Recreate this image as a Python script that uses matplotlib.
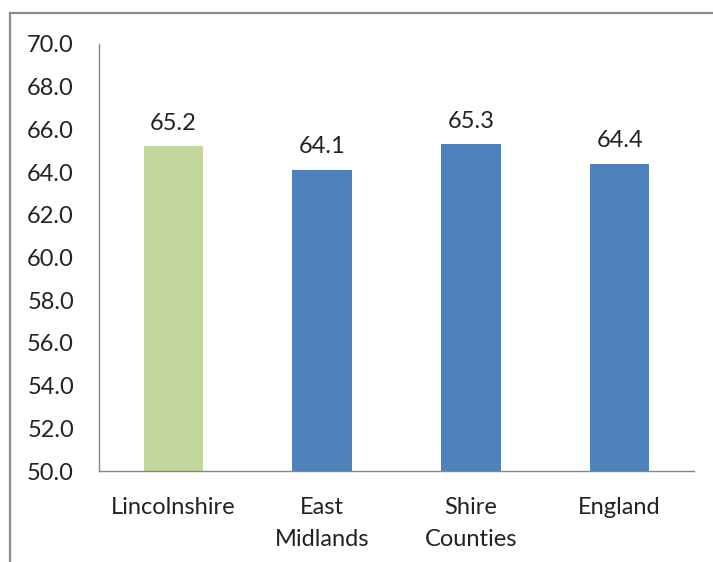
import matplotlib
matplotlib.use("Agg")
import matplotlib.pyplot as plt
from matplotlib.patches import Rectangle

categories = ["Lincolnshire", "East\nMidlands", "Shire\nCounties", "England"]
values = [65.2, 64.1, 65.3, 64.4]
colors = ["#C3D69B", "#4F81BD", "#4F81BD", "#4F81BD"]
yticks = [50.0, 52.0, 54.0, 56.0, 58.0, 60.0, 62.0, 64.0, 66.0, 68.0, 70.0]

plt.rcParams['font.family'] = ['Lato', 'DejaVu Sans']
FS = 17

fig = plt.figure(figsize=(7.13, 5.62), dpi=100)
ax = fig.add_axes([99/713, 1-471/562, (694-99)/713, (471-44)/562])

x = range(len(categories))
bars = ax.bar(x, values, width=0.4, color=colors, zorder=2)
for xi, v in zip(x, values):
    ax.annotate(f"{v:.1f}", (xi, v), xytext=(0, 9), textcoords="offset points",
                ha="center", va="bottom", fontsize=FS, color="#222222")

ax.set_xlim(-0.5, len(categories) - 0.5)
ax.set_ylim(50, 70)
ax.set_yticks(yticks)
ax.set_yticklabels([f"{t:.1f}" for t in yticks], fontsize=FS, color="#222222")
ax.set_xticks(list(x))
ax.set_xticklabels(categories, fontsize=FS, color="#222222", linespacing=1.6)
ax.tick_params(axis='both', length=0)
ax.tick_params(axis='y', pad=18)
ax.tick_params(axis='x', pad=19)
for s in ["top", "right"]:
    ax.spines[s].set_visible(False)
for s in ["left", "bottom"]:
    ax.spines[s].set_color("#868686")
    ax.spines[s].set_linewidth(1.0)

border = Rectangle((10/713, -0.1), 1.2, 1 - 13/562 + 0.1, transform=fig.transFigure,
                   fill=False, edgecolor="#8C8C8C", linewidth=1.6, clip_on=False)
fig.patches.append(border)

fig.savefig("out.png", dpi=100)
